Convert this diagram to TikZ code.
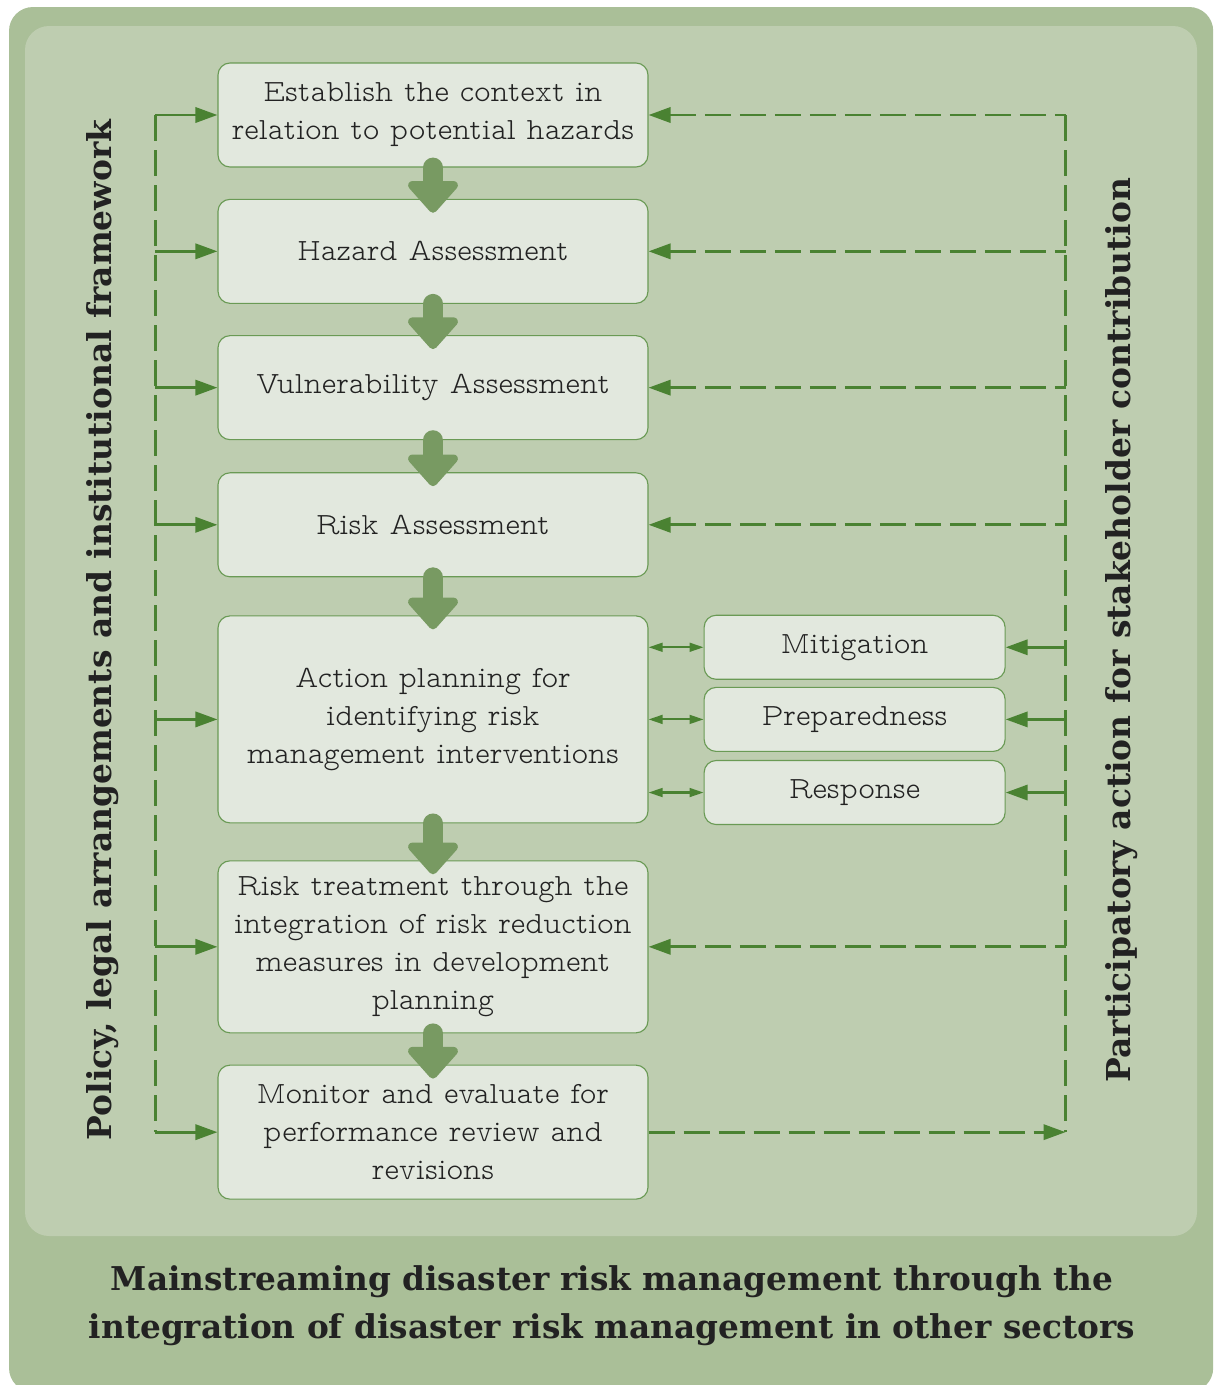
\documentclass[tikz,border=0pt]{standalone}
\usepackage{fontspec}
\usepackage{xcolor}
\definecolor{colorFrame}{HTML}{AABF98}
\definecolor{colorPanel}{HTML}{BECDB0}
\definecolor{colorBox}{HTML}{E2E8DE}
\definecolor{colorBorder}{HTML}{6A9A55}
\definecolor{colorLink}{HTML}{4A8232}
\definecolor{colorFlow}{HTML}{789A62}
\definecolor{colorText}{HTML}{222222}
\newfontfamily\boxfont{Latin Modern Mono Prop Light}
\newfontfamily\headfont{DejaVu Serif}
\usetikzlibrary{arrows.meta, positioning}

\begin{document}
\begin{tikzpicture}[node distance=0.78cm, >={Triangle[length=0.55cm, width=0.38cm]},
  stepbox/.style={draw=colorBorder, line width=0.8pt, fill=colorBox, rounded corners=0.3cm, minimum width=10.75cm, minimum height=2.6cm, align=center, text=colorText, font=\boxfont\fontsize{22}{27}\selectfont},
  measurebox/.style={stepbox, minimum width=7.525cm, minimum height=1.6cm},
  dashlink/.style={colorLink, line width=2pt, dash pattern=on 0.65cm off 0.225cm},
  solidlink/.style={colorLink, line width=2pt},
  pairlink/.style={colorLink, line width=1.5pt, {Triangle[length=0.35cm, width=0.22cm]}-{Triangle[length=0.35cm, width=0.22cm]}},
  flowarrow/.style={colorFlow, line width=0.5cm, line cap=round, shorten <=0cm, shorten >=-0.35cm, -{Triangle[length=0.85cm, width=1.45cm, round, line width=8pt 0]}},
  sidelabel/.style={rotate=90, text=colorText, font=\headfont\bfseries\fontsize{23.4}{28}\selectfont}]
\useasboundingbox (0,0) rectangle (30.35,-34.625);
% background panels
\fill[colorFrame, rounded corners=0.6cm] (0.225,-0.175) rectangle (30.33,-34.8);
\fill[colorPanel, rounded corners=0.6cm] (0.625,-0.65) rectangle (29.925,-30.9);

% steps
\node[stepbox] (s0) at (10.825,-2.875) {Establish the context in\\relation to potential hazards};
\node[stepbox, below=of s0] (s1) {Hazard Assessment};
\node[stepbox, below=of s1] (s2) {Vulnerability Assessment};
\node[stepbox, below=0.8cm of s2] (s3) {Risk Assessment};
\node[stepbox, below=0.95cm of s3, minimum height=5.175cm] (s4) {Action planning for\\identifying risk\\management interventions};
\node[stepbox, below=0.92cm of s4, minimum height=4.3cm] (s5) {Risk treatment through the\\integration of risk reduction\\measures in development\\planning};
\node[stepbox, below=of s5, minimum height=3.35cm] (s6) {Monitor and evaluate for\\performance review and\\revisions};

% measures
\node[measurebox, right=1.375cm of s4] (m1) {Preparedness};
\node[measurebox, above=0.175cm of m1] (m0) {Mitigation};
\node[measurebox, below=0.2cm of m1] (m2) {Response};

% side labels
\node[sidelabel] (pol) at (2.575,-15.75) {Policy, legal arrangements and institutional framework};
\node[sidelabel] (par) at (28.05,-15.75) {Participatory action for stakeholder contribution};

\node[align=center, text=colorText, font=\headfont\bfseries\fontsize{23.3}{34}\selectfont] (title) at (15.3,-32.65) {Mainstreaming disaster risk management through the\\integration of disaster risk management in other sectors};

% rails
\coordinate[left=1.55cm of s0.west] (lt);
\coordinate[left=1.55cm of s6.west] (lb);
\coordinate[right=10.425cm of s0.east] (rt);
\coordinate[right=10.425cm of s6.east] (rb);
\draw[dashlink] (lt) -- (lb);
\draw[dashlink] (rt) -- (rb);

\foreach \i in {0,...,6} \draw[solidlink, ->] (lt |- s\i.west) -- (s\i.west);
\foreach \i in {0,1,2,3,5} \draw[dashlink, <-] (s\i.east) -- (rt |- s\i.east);
\draw[dashlink, ->] (s6.east) -- (rt |- s6.east);
\foreach \i in {0,1,2} {
  \draw[solidlink, <-] (m\i.east) -- (rt |- m\i.east);
  \draw[pairlink] (s4.east |- m\i.west) -- (m\i.west);
}

% flow
\foreach \i [count=\j] in {0,...,5} \draw[flowarrow] (s\i) -- (s\j);
\end{tikzpicture}
\end{document}
